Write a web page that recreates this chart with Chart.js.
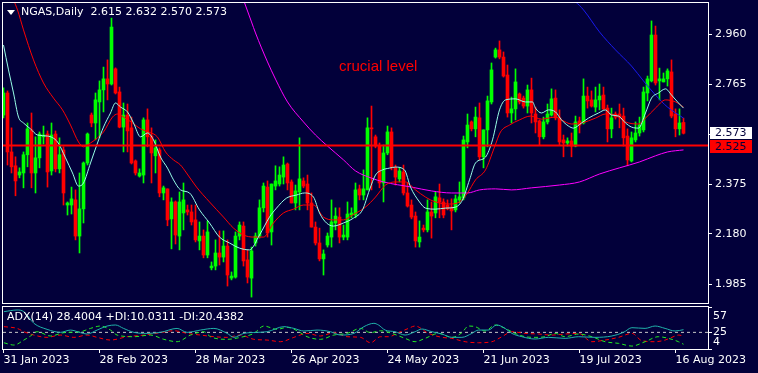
<!DOCTYPE html>
<html><head><meta charset="utf-8">
<script src="https://cdn.jsdelivr.net/npm/chart.js@4.4.1/dist/chart.umd.min.js"></script>
<style>
html,body{margin:0;padding:0;background:#02003A;}
#wrap{position:relative;width:758px;height:373px;overflow:hidden;background:#02003A;}
#main{position:absolute;left:0;top:0;width:758px;height:306px;}
#sub{position:absolute;left:0;top:304px;width:758px;height:69px;}
</style></head><body>
<div id="wrap"><canvas id="main" width="758" height="306"></canvas><canvas id="sub" width="758" height="69"></canvas></div>
<script>
// ---- data (NGAS daily, 31 Jan 2023 .. 18 Aug 2023) ----
const symbolName = 'NGAS', periodName = 'Daily';
const opens = [2.644,2.730,2.500,2.446,2.410,2.418,2.489,2.586,2.418,2.477,2.559,2.570,2.426,2.570,2.434,2.508,2.293,2.293,2.313,2.172,
2.278,2.457,2.644,2.613,2.695,2.742,2.785,2.765,2.824,2.734,2.597,2.644,2.594,2.465,2.406,2.410,2.625,2.562,2.485,2.508,
2.340,2.356,2.239,2.305,2.172,2.262,2.274,2.266,2.235,2.153,2.172,2.098,2.048,2.055,2.106,2.090,2.133,2.008,2.012,2.172,
2.211,2.079,2.008,2.145,2.172,2.282,2.363,2.188,2.367,2.375,2.402,2.453,2.383,2.301,2.344,2.387,2.375,2.301,2.207,2.145,
2.083,2.137,2.168,2.223,2.246,2.168,2.168,2.254,2.254,2.356,2.332,2.352,2.594,2.559,2.523,2.379,2.496,2.578,2.438,2.395,
2.422,2.340,2.293,2.250,2.149,2.203,2.196,2.266,2.262,2.321,2.305,2.293,2.285,2.274,2.313,2.321,2.539,2.617,2.590,2.633,
2.481,2.586,2.695,2.870,2.898,2.870,2.800,2.652,2.668,2.726,2.710,2.679,2.742,2.648,2.621,2.559,2.617,2.644,2.710,2.633,
2.547,2.535,2.543,2.523,2.621,2.613,2.718,2.703,2.675,2.703,2.722,2.671,2.590,2.648,2.648,2.640,2.562,2.465,2.547,2.574,
2.586,2.730,2.777,2.956,2.777,2.773,2.785,2.812,2.648,2.590,2.615];
const highs = [2.750,2.738,2.594,2.481,2.438,2.500,2.613,2.652,2.559,2.578,2.601,2.582,2.613,2.582,2.555,2.520,2.305,2.363,2.352,2.418,
2.461,2.574,2.652,2.730,2.777,2.831,2.859,3.022,2.828,2.753,2.691,2.687,2.636,2.469,2.434,2.633,2.668,2.594,2.547,2.516,
2.367,2.356,2.321,2.309,2.344,2.379,2.293,2.293,2.293,2.227,2.196,2.231,2.071,2.157,2.192,2.192,2.157,2.032,2.188,2.227,
2.227,2.118,2.129,2.184,2.313,2.379,2.387,2.375,2.446,2.442,2.481,2.457,2.391,2.371,2.555,2.399,2.410,2.340,2.227,2.203,
2.118,2.184,2.313,2.282,2.282,2.215,2.305,2.282,2.379,2.371,2.430,2.633,2.679,2.566,2.535,2.527,2.601,2.594,2.449,2.438,
2.449,2.379,2.313,2.266,2.231,2.215,2.313,2.305,2.344,2.375,2.317,2.313,2.317,2.332,2.383,2.562,2.648,2.621,2.675,2.691,
2.586,2.718,2.847,2.905,2.933,2.890,2.839,2.714,2.824,2.730,2.718,2.761,2.788,2.675,2.625,2.636,2.687,2.746,2.742,2.664,
2.566,2.555,2.574,2.640,2.636,2.785,2.753,2.738,2.753,2.765,2.753,2.683,2.671,2.656,2.687,2.671,2.590,2.578,2.617,2.636,
2.753,2.796,3.011,2.991,2.827,2.808,2.824,2.859,2.668,2.668,2.632];
const lows = [2.633,2.449,2.418,2.329,2.399,2.360,2.442,2.360,2.340,2.438,2.531,2.363,2.410,2.422,2.418,2.293,2.254,2.258,2.157,2.106,
2.223,2.449,2.598,2.547,2.555,2.656,2.703,2.761,2.726,2.594,2.500,2.500,2.453,2.410,2.402,2.379,2.520,2.379,2.418,2.325,
2.313,2.212,2.122,2.141,2.118,2.196,2.254,2.215,2.149,2.118,2.087,2.087,2.040,2.040,2.059,2.071,1.977,2.001,2.008,2.157,
2.055,1.989,1.934,2.133,2.164,2.266,2.168,2.137,2.352,2.367,2.375,2.352,2.301,2.274,2.274,2.360,2.274,2.207,2.137,2.075,
2.020,2.129,2.129,2.196,2.145,2.157,2.157,2.243,2.243,2.313,2.313,2.352,2.352,2.516,2.360,2.305,2.489,2.430,2.371,2.383,
2.332,2.285,2.239,2.129,2.129,2.188,2.188,2.164,2.243,2.243,2.243,2.274,2.196,2.266,2.301,2.313,2.516,2.582,2.559,2.469,
2.438,2.520,2.687,2.866,2.863,2.792,2.636,2.613,2.625,2.687,2.671,2.652,2.613,2.574,2.527,2.551,2.609,2.640,2.625,2.527,
2.481,2.523,2.481,2.520,2.574,2.609,2.671,2.675,2.656,2.664,2.664,2.539,2.555,2.628,2.594,2.523,2.446,2.461,2.539,2.562,
2.578,2.699,2.773,2.761,2.703,2.773,2.757,2.633,2.559,2.566,2.570];
const closes = [2.730,2.500,2.442,2.387,2.422,2.489,2.590,2.418,2.477,2.570,2.566,2.422,2.566,2.434,2.489,2.340,2.301,2.317,2.172,2.278,
2.457,2.570,2.613,2.703,2.742,2.785,2.765,2.987,2.730,2.597,2.644,2.582,2.457,2.418,2.418,2.625,2.559,2.496,2.516,2.340,
2.360,2.235,2.305,2.176,2.305,2.313,2.266,2.227,2.157,2.172,2.098,2.188,2.055,2.106,2.090,2.133,2.020,2.016,2.172,2.215,
2.075,2.012,2.114,2.172,2.282,2.367,2.184,2.375,2.387,2.410,2.449,2.379,2.301,2.348,2.395,2.367,2.301,2.207,2.145,2.083,
2.102,2.172,2.227,2.250,2.168,2.176,2.258,2.262,2.352,2.332,2.356,2.594,2.590,2.523,2.379,2.496,2.578,2.438,2.402,2.426,
2.340,2.289,2.246,2.153,2.168,2.196,2.266,2.250,2.325,2.305,2.254,2.278,2.270,2.317,2.325,2.547,2.605,2.590,2.636,2.481,
2.586,2.699,2.820,2.898,2.870,2.796,2.652,2.668,2.773,2.695,2.679,2.742,2.652,2.617,2.559,2.617,2.648,2.707,2.633,2.539,
2.535,2.543,2.523,2.617,2.605,2.718,2.699,2.679,2.703,2.718,2.668,2.590,2.633,2.636,2.636,2.555,2.469,2.555,2.574,2.605,
2.734,2.785,2.956,2.769,2.785,2.785,2.816,2.640,2.590,2.613,2.573];

// moving averages (bar index, price)
const fastIdx = [0,1.25,2.5,3.75,5,6.75,8.5,11,13.5,15.5,17.25,18.75,20,21.75,23.5,25,26.75,28,29.25,31,32.5,34.25,36,37.5,39.25,41,42.5,44.25,46.5,49,51.5,54,56.5,59,61.5,64,66.5,68.25,70.75,73.25,75.25,77.5,79,80.75,82.5,85,87.5,89.75,91.5,93,94.75,96.5,98,100.25,101.75,104,105.5,108,110.5,113,114.75,116.5,118,120.5,122.25,124,125.5,128,130.5,132.25,133,134.5,136.25,138,139.5,141.25,142.5,144.5,146.25,148.75,150.5,152,153.75,155.5,157,158.75,160.5,162,163.75,165.5,167,168.75,170];
const fastVal = [2.917,2.820,2.730,2.636,2.613,2.590,2.566,2.562,2.539,2.477,2.418,2.367,2.379,2.457,2.535,2.597,2.652,2.691,2.675,2.656,2.613,2.559,2.574,2.547,2.480,2.437,2.391,2.352,2.340,2.274,2.223,2.168,2.145,2.125,2.118,2.176,2.246,2.281,2.320,2.332,2.340,2.324,2.262,2.223,2.211,2.223,2.242,2.274,2.352,2.410,2.430,2.437,2.441,2.430,2.363,2.305,2.281,2.277,2.281,2.285,2.313,2.391,2.457,2.480,2.547,2.664,2.703,2.707,2.695,2.695,2.671,2.652,2.664,2.656,2.625,2.601,2.593,2.613,2.632,2.652,2.664,2.644,2.640,2.613,2.597,2.593,2.652,2.710,2.730,2.746,2.722,2.691,2.671];
const slowIdx = [2.5,3.5,5,7.5,10,12.5,14.75,16.75,18.75,20,21.75,23.5,25,27.25,28.5,30,32.25,34.25,36.25,38.5,40.5,42.5,44.25,45.75,48.25,51.5,55,57.5,60,62.5,65,67.5,70,72.5,75,77.5,80,82.5,85,87.25,90.5,93,95.5,98,100.5,103,105.5,108,111.5,114,116,118,120.5,122.75,124.25,126.5,129,131.75,134.5,138,139.5,142,144.5,148,150.5,153,155.5,158.75,160.5,163,165.5,168,170];
const slowVal = [3.093,3.054,2.976,2.859,2.769,2.710,2.664,2.605,2.539,2.520,2.535,2.555,2.578,2.636,2.648,2.636,2.613,2.590,2.578,2.558,2.500,2.469,2.449,2.418,2.363,2.305,2.246,2.203,2.176,2.168,2.168,2.223,2.262,2.277,2.293,2.293,2.246,2.235,2.235,2.254,2.285,2.324,2.371,2.383,2.383,2.352,2.324,2.305,2.297,2.305,2.340,2.391,2.430,2.519,2.578,2.605,2.625,2.640,2.628,2.636,2.625,2.609,2.613,2.632,2.648,2.644,2.617,2.609,2.632,2.671,2.703,2.695,2.675];
const ma100Idx = [60,62,63,66,68,71,75,78,81,85,88,92,95,102,107,112,116,119,123,127,132,139,144,149,154,159,163,166,170];
const ma100Val = [3.093,3.007,2.964,2.851,2.784,2.695,2.617,2.566,2.523,2.469,2.426,2.398,2.383,2.363,2.348,2.340,2.340,2.352,2.356,2.352,2.360,2.371,2.383,2.414,2.438,2.461,2.485,2.500,2.508];
const ma200Idx = [140,143,145,149,153,157,160,163,166,170];
const ma200Val = [3.112,3.085,3.054,2.968,2.898,2.835,2.777,2.722,2.675,2.632];
const levelPrice = 2.525;
const levelText = 'crucial level';
const yTicks = [1.985,2.180,2.375,2.570,2.765,2.960];

// ADX(14) panel
const adxIdx = [0.1,3.4,5.1,7.6,10.9,14.25,16.75,19.25,20.9,23.4,25.9,28,30,32.6,35.9,39.25,43.4,45.9,49.25,52.6,55.9,57.6,60.1,63.4,65.9,70.1,72.6,75.1,78.4,81.75,84.25,87.6,90.1,92.6,93.75,95.4,97.9,100.4,102.9,104.6,107.1,109.6,112.1,114.6,117.1,118.75,121.25,123.3,125.4,127.1,129.6,132.9,136.25,140.4,143.75,147.9,152.1,155,157.1,160.4,162.9,165.4,167.9,170];
const adxVal = [51.1,53.2,51.1,36.4,28.8,25.0,27.9,24.6,22.9,27.9,33.0,34.3,30.0,25.0,23.7,25.0,30.0,25.0,27.9,30.0,23.7,18.7,23.7,25.0,25.8,32.2,30.0,26.7,27.9,25.8,21.6,23.7,32.2,36.4,34.3,27.9,25.8,21.6,25.8,29.2,25.8,22.9,18.7,18.7,23.7,27.9,27.9,34.3,30.0,23.7,19.5,16.6,18.7,17.4,19.5,18.7,20.4,25.0,30.9,30.0,33.0,30.0,26.7,28.4];
const pdiIdx = [0.1,2.6,5.1,6.75,8.4,11.75,15.1,19.25,21.75,24.25,26.75,28.4,32.6,36.75,40.1,43.4,46.75,50.1,51.75,55.9,59.25,62.6,65.1,68.4,70.9,73.4,75.9,79.25,82.6,85.9,89.25,91.75,94.25,97.1,100.4,102.9,105.4,108.75,112.1,114.6,116.25,117.9,120.4,122.9,125.4,127.9,130.4,132.9,135.4,137.9,140.4,143.75,147.1,150.4,153.75,157.1,160.4,163.75,166.25,168.75,170];
const pdiVal = [11.9,9.0,15.3,20.4,25.8,20.4,24.6,25.8,30.0,33.0,27.9,21.6,19.5,21.6,16.2,13.2,21.6,25.8,19.5,16.2,18.7,23.7,33.0,28.8,31.3,27.1,19.5,16.2,21.6,23.7,30.0,24.6,27.0,23.7,17.4,13.2,17.4,23.7,18.7,24.6,33.0,32.2,26.7,34.3,30.0,23.7,19.5,18.7,19.5,23.7,19.5,22.9,19.5,13.2,11.1,7.7,13.2,19.5,17.4,13.2,10.0];
const mdiIdx = [0.1,3.4,5.1,7.6,10.9,14.25,17.6,20.9,23.4,26.75,30.9,35.1,39.25,42.6,45.9,49.25,52.6,55.9,59.25,62.6,65.9,69.25,72.6,75.9,79.25,82.6,85.9,89.25,91.75,94.25,96.25,98.75,101.25,102.9,106.25,109.6,112.1,115.4,118.75,122.1,124.6,127.1,130.4,133.75,137.1,140.4,143.75,147.1,150.4,153.75,157.1,159.6,162.9,165.4,167.1,168.75,170];
const mdiVal = [32.2,30.0,25.8,21.6,18.7,21.6,18.7,21.6,18.7,15.3,19.5,21.6,24.6,27.1,23.7,21.6,19.5,18.7,21.6,16.2,15.3,13.2,18.7,23.7,20.4,24.6,19.5,18.7,11.9,19.5,19.5,24.6,30.0,33.0,23.7,18.7,17.4,13.2,11.9,13.2,19.5,25.8,23.7,22.9,21.6,22.9,23.7,13.2,15.3,18.7,23.7,14.5,13.2,15.3,18.7,21.6,20.4];
const adxLevel = 25;
const adxTicks = [4, 25, 57];
const adxLast = '28.4004', pdiLast = '10.0311', mdiLast = '20.4382';

// x axis (bar index of each date label)
const xTickIdx = [0,24,48,72,96,120,144,168];
const xTickLabels = ['31 Jan 2023','28 Feb 2023','28 Mar 2023','26 Apr 2023','24 May 2023','21 Jun 2023','19 Jul 2023','16 Aug 2023'];

// ---- rendering ----
const FONT = "'DejaVu Sans', sans-serif";
const UP = '#00FF00', DN = '#FF0000';
const XMIN = -0.125, XMAX = 176.125;
const barIdx = opens.map((_, i) => i);
const candleColors = barIdx.map(i => closes[i] >= opens[i] ? UP : DN);
const pts = (xs, ys) => xs.map((x, k) => ({x, y: ys[k]}));
const lineDs = (data, color, width, order, extra) => Object.assign({type:'line', data, borderColor:color, borderWidth:width, pointRadius:0, fill:false, cubicInterpolationMode:'monotone', order}, extra || {});

const framePlugin = {
  id:'frame',
  afterDatasetsDraw(chart){
    const {ctx, chartArea:a} = chart;
    ctx.save(); ctx.strokeStyle = '#FFFFFF'; ctx.lineWidth = 1;
    ctx.strokeRect(a.left - 0.5, a.top - 0.5, a.right - a.left + 1, a.bottom - a.top + 1);
    ctx.restore();
  }
};

const mainDecor = {
  id:'mainDecor',
  afterDraw(chart){
    const {ctx} = chart; const ys = chart.scales.y;
    const last = opens.length - 1;
    ctx.save();
    // title
    ctx.fillStyle = '#FFFFFF';
    ctx.beginPath(); ctx.moveTo(7,10); ctx.lineTo(15,10); ctx.lineTo(11,15); ctx.closePath(); ctx.fill();
    ctx.font = '11px ' + FONT; ctx.textBaseline = 'middle'; ctx.textAlign = 'left';
    const title = symbolName + ',' + periodName + '  ' + [opens[last], highs[last], lows[last], closes[last]].map(v => v.toFixed(3)).join(' ');
    ctx.fillText(title, 21, 12.5);
    // annotation
    ctx.fillStyle = '#FF0000'; ctx.font = "15px 'Liberation Sans', sans-serif";
    ctx.fillText(levelText, 339, 67);
    // price boxes
    const p1 = ys.getPixelForValue(closes[last]);
    const p2 = ys.getPixelForValue(levelPrice);
    const t1 = Math.round(p1 - 6), t2 = Math.max(Math.round(p2 - 6), t1 + 13);
    ctx.font = '11px ' + FONT;
    ctx.fillStyle = '#FFFFFF'; ctx.fillRect(710, t1, 42, 12);
    ctx.fillStyle = '#02003A'; ctx.fillText(closes[last].toFixed(3), 715, t1 + 6.5);
    ctx.fillStyle = '#FF0000'; ctx.fillRect(710, t2, 42, 13);
    ctx.fillStyle = '#02003A'; ctx.fillText(levelPrice.toFixed(3), 715, t2 + 7);
    ctx.restore();
  }
};

new Chart(document.getElementById('main'), {
  type:'bar',
  data:{ datasets:[
    {type:'bar', data: barIdx.map(i => ({x:i, y:[lows[i], highs[i]]})), backgroundColor:candleColors, barThickness:1, maxBarThickness:1, grouped:false, order:5},
    {type:'bar', data: barIdx.map(i => ({x:i, y:[opens[i], closes[i]]})), backgroundColor:candleColors, barThickness:3, maxBarThickness:3, minBarLength:1, grouped:false, order:4},
    lineDs(pts(ma100Idx, ma100Val), '#FF00FF', 1, 3),
    lineDs(pts(ma200Idx, ma200Val), '#1A1AF0', 1, 3),
    lineDs(pts(slowIdx, slowVal), '#FF0000', 1, 2),
    lineDs(pts(fastIdx, fastVal), '#98FFE8', 1, 1),
    lineDs([{x:XMIN, y:levelPrice}, {x:XMAX, y:levelPrice}], '#FF0000', 2, 0, {cubicInterpolationMode:'default'})
  ]},
  options:{
    responsive:false, animation:false, devicePixelRatio:1, events:[],
    layout:{padding:{left:3, top:3, right:0, bottom:3}},
    plugins:{legend:{display:false}, tooltip:{enabled:false}},
    scales:{
      x:{type:'linear', min:XMIN, max:XMAX, offset:false, display:false, grid:{offset:false}},
      y:{type:'linear', position:'right', min:1.9109, max:3.0809, beginAtZero:false,
         afterBuildTicks: ax => { ax.ticks = yTicks.map(v => ({value:v})); },
         afterFit: ax => { ax.width = 50; ax.paddingTop = 0; ax.paddingBottom = 0; },
         ticks:{color:'#FFFFFF', font:{family:FONT, size:11}, padding:3, callback: v => Number(v).toFixed(3)},
         grid:{drawOnChartArea:false, drawTicks:true, tickLength:4, color:'#FFFFFF'},
         border:{display:false}}
    }
  },
  plugins:[framePlugin, mainDecor]
});

const subDecor = {
  id:'subDecor',
  afterDraw(chart){
    const {ctx, chartArea:a} = chart; const ys = chart.scales.y;
    ctx.save();
    ctx.fillStyle = '#FFFFFF'; ctx.font = '11px ' + FONT; ctx.textBaseline = 'middle'; ctx.textAlign = 'left';
    ctx.fillText('ADX(14) ' + adxLast + ' +DI:' + pdiLast + ' -DI:' + mdiLast, 7, 13);
    ctx.fillText(String(adxTicks[2]), 713, a.top + 8.7);
    ctx.fillText(String(adxTicks[1]), 713, ys.getPixelForValue(adxTicks[1]));
    ctx.fillText(String(adxTicks[0]), 713, a.bottom - 7.3);
    ctx.restore();
  }
};

new Chart(document.getElementById('sub'), {
  type:'line',
  data:{ datasets:[
    lineDs([{x:XMIN, y:adxLevel}, {x:XMAX, y:adxLevel}], '#C8C8C8', 1, 4, {borderDash:[3,3], cubicInterpolationMode:'default'}),
    lineDs(pts(adxIdx, adxVal), '#20B2AA', 1, 1),
    lineDs(pts(pdiIdx, pdiVal), '#22EE22', 1, 2, {borderDash:[4,3]}),
    lineDs(pts(mdiIdx, mdiVal), '#FF0000', 1, 3, {borderDash:[4,3]})
  ]},
  options:{
    responsive:false, animation:false, devicePixelRatio:1, events:[],
    layout:{padding:{left:3, top:3, right:0, bottom:0}},
    plugins:{legend:{display:false}, tooltip:{enabled:false}},
    scales:{
      x:{type:'linear', position:'bottom', min:XMIN, max:XMAX, offset:false,
         afterBuildTicks: ax => { ax.ticks = xTickIdx.map(v => ({value:v})); },
         afterFit: ax => { ax.height = 24; ax.paddingLeft = 0; ax.paddingRight = 0; },
         ticks:{color:'#FFFFFF', font:{family:FONT, size:11}, padding:1, align:'start', maxRotation:0, minRotation:0, autoSkip:false,
                callback: (v, i) => xTickLabels[i]},
         grid:{drawOnChartArea:false, drawTicks:true, tickLength:4, color:'#FFFFFF'},
         border:{display:false}},
      y:{type:'linear', position:'right', min:4, max:57,
         afterBuildTicks: ax => { ax.ticks = adxTicks.map(v => ({value:v})); },
         afterFit: ax => { ax.width = 50; ax.paddingTop = 0; ax.paddingBottom = 0; },
         ticks:{color:'#FFFFFF', font:{family:FONT, size:11}, callback: () => ''},
         grid:{drawOnChartArea:false, drawTicks:true, tickLength:4, color:'#FFFFFF'},
         border:{display:false}}
    }
  },
  plugins:[framePlugin, subDecor]
});
</script>
</body></html>
